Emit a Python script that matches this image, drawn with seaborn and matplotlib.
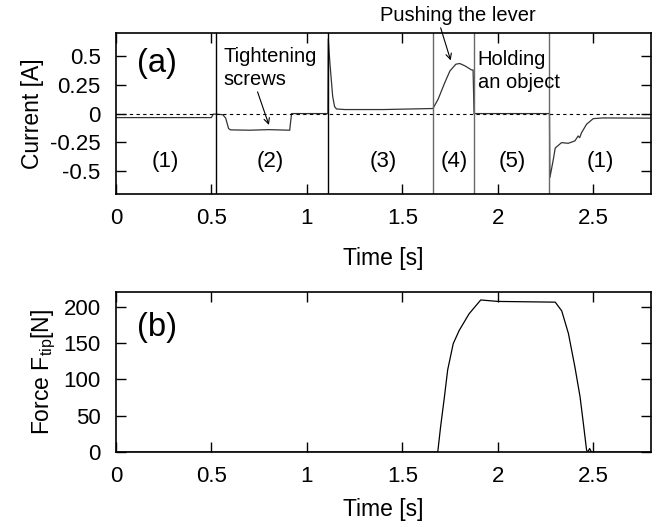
import numpy as np
import pandas as pd
import matplotlib
matplotlib.use("Agg")
import matplotlib.pyplot as plt
import seaborn as sns

# current trace (a), breakpoints
time_a = [0, 0.50, 0.51, 0.524, 0.56, 0.575, 0.59, 0.60, 0.70, 0.80, 0.91, 0.915, 0.92,
          1.11, 1.112, 1.12, 1.135, 1.145, 1.155, 1.20, 1.40, 1.66, 1.687, 1.722, 1.749,
          1.78, 1.80, 1.827, 1.862, 1.87, 1.875, 2.0, 2.27, 2.272, 2.29, 2.30, 2.333,
          2.368, 2.403, 2.42, 2.428, 2.438, 2.464, 2.499, 2.55, 2.8]
current = [-0.035, -0.035, -0.005, -0.005, -0.01, -0.04, -0.13, -0.142, -0.145, -0.14,
           -0.145, -0.07, 0.0, 0.0, 0.65, 0.45, 0.15, 0.06, 0.04, 0.035, 0.035, 0.044,
           0.125, 0.27, 0.372, 0.43, 0.436, 0.416, 0.38, 0.38, 0.0, 0.0, 0.0, -0.558,
           -0.40, -0.30, -0.253, -0.259, -0.238, -0.195, -0.21, -0.166, -0.093, -0.044,
           -0.038, -0.04]

# tip force (b)
time_b = [0, 1.685, 1.70, 1.72, 1.737, 1.766, 1.797, 1.849, 1.91, 2.0, 2.30, 2.334,
          2.369, 2.403, 2.43, 2.447, 2.464, 2.47, 2.48, 2.49, 2.8]
force = [0, 0, 35, 76, 113, 149, 167, 190, 209, 207, 206, 194, 163, 117, 76, 40, 3, 0,
         5, 0, 0]

# phase boundaries and labels
boundaries = [0.524, 1.11, 1.66, 1.875, 2.27]
boundary_colors = ['black', 'black', 'dimgray', 'dimgray', 'dimgray']
phase_labels = ['(1)', '(2)', '(3)', '(4)', '(5)', '(1)']
phase_pos = [0.26, 0.806, 1.40, 1.77, 2.077, 2.534]

sns.set_style("ticks")
plt.rcParams['font.family'] = ['Liberation Sans', 'DejaVu Sans']
plt.rcParams['mathtext.fontset'] = 'custom'
plt.rcParams['mathtext.rm'] = 'Liberation Sans'
plt.rcParams['xtick.direction'] = 'in'
plt.rcParams['ytick.direction'] = 'in'
for key in ['text.color', 'axes.labelcolor', 'xtick.color', 'ytick.color']:
    plt.rcParams[key] = 'black'

fig = plt.figure(figsize=(6.62, 5.27), dpi=100)
ax1 = fig.add_axes([0.175, 0.632, 0.808, 0.305])
ax2 = fig.add_axes([0.175, 0.142, 0.808, 0.304])

df_a = pd.DataFrame({'t': time_a, 'I': current})
df_b = pd.DataFrame({'t': time_b, 'F': force})

sns.lineplot(data=df_a, x='t', y='I', ax=ax1, color='#333333', lw=0.9,
             estimator=None, sort=False)
ax1.axhline(0, color='black', lw=0.8, ls=(0, (3, 3)))
for b, c in zip(boundaries, boundary_colors):
    ax1.axvline(b, color=c, lw=1.0)
for lab, p in zip(phase_labels, phase_pos):
    ax1.text(p, -0.415, lab, ha='center', va='center', fontsize=16)

ax1.text(0.11, 0.44, '(a)', fontsize=23.5, ha='left', va='center')
ax1.text(0.565, 0.40, 'Tightening\nscrews', fontsize=14.5, ha='left', va='center',
         linespacing=1.25)
ax1.annotate('', xy=(0.806, -0.122), xytext=(0.737, 0.212),
             arrowprops=dict(arrowstyle='->', color='black', lw=0.8))
ax1.text(1.79, 0.85, 'Pushing the lever', fontsize=14.5, ha='center', va='center',
         clip_on=False)
ax1.annotate('', xy=(1.757, 0.44), xytext=(1.696, 0.77),
             arrowprops=dict(arrowstyle='->', color='black', lw=0.8),
             annotation_clip=False)
ax1.text(1.894, 0.37, 'Holding\nan object', fontsize=14.5, ha='left', va='center',
         linespacing=1.25)

ax1.set_xlim(0, 2.8)
ax1.set_ylim(-0.7, 0.7)
ax1.set_yticks([-0.5, -0.25, 0, 0.25, 0.5])
ax1.set_yticklabels(['-0.5', '-0.25', '0', '0.25', '0.5'])
ax1.set_xticks([0, 0.5, 1, 1.5, 2, 2.5])
ax1.set_xticklabels(['0', '0.5', '1', '1.5', '2', '2.5'])
ax1.set_xlabel('Time [s]', fontsize=16.5, labelpad=13)
ax1.set_ylabel('Current [A]', fontsize=16.5, labelpad=4)

sns.lineplot(data=df_b, x='t', y='F', ax=ax2, color='black', lw=0.9,
             estimator=None, sort=False)
ax2.text(0.11, 171, '(b)', fontsize=23.5, ha='left', va='center')
ax2.set_xlim(0, 2.8)
ax2.set_ylim(0, 220)
ax2.set_yticks([0, 50, 100, 150, 200])
ax2.set_xticks([0, 0.5, 1, 1.5, 2, 2.5])
ax2.set_xticklabels(['0', '0.5', '1', '1.5', '2', '2.5'])
ax2.set_xlabel('Time [s]', fontsize=16.5, labelpad=8)
ax2.set_ylabel(r'Force F$_{\rm tip}$[N]', fontsize=16.5, labelpad=4)

for ax in (ax1, ax2):
    ax.tick_params(axis='both', which='both', top=True, right=True, length=7,
                   width=1.0, labelsize=16, color='black')
    ax.tick_params(axis='x', pad=10)
    ax.tick_params(axis='y', pad=11)
    for s in ax.spines.values():
        s.set_linewidth(1.2)
        s.set_color('black')

fig.savefig('out.png', dpi=100)
